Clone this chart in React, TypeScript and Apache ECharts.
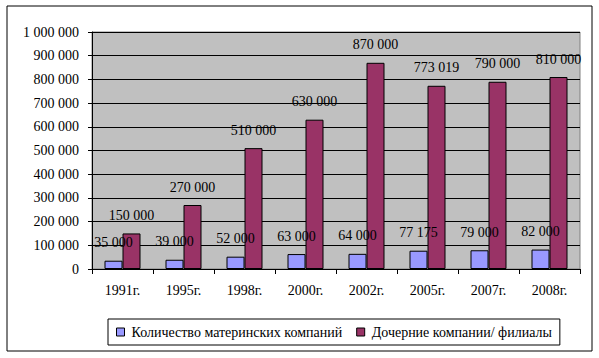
import React, { useEffect, useRef } from "react";
import * as echarts from "echarts";

const categories = ["1991г.", "1995г.", "1998г.", "2000г.", "2002г.", "2005г.", "2007г.", "2008г."];
const parentCompanies = [35000, 39000, 52000, 63000, 64000, 77175, 79000, 82000];
const subsidiaries = [150000, 270000, 510000, 630000, 870000, 773019, 790000, 810000];
const seriesNames = ["Количество материнских компаний", "Дочерние компании/ филиалы"];

const FONT = "Liberation Serif";

const fmt = (v: number) => String(Math.round(v)).replace(/\B(?=(\d{3})+(?!\d))/g, " ");

export default function App() {
  const ref = useRef<HTMLDivElement>(null);
  useEffect(() => {
    if (!ref.current) return;
    const chart = echarts.init(ref.current, undefined, { renderer: "svg" });
    const labelCfg = {
      show: true,
      position: "top" as const,
      distance: 11,
      color: "#000",
      fontFamily: FONT,
      fontSize: 14,
      formatter: (p: any) => fmt(p.value),
    };
    chart.setOption({
      animation: false,
      backgroundColor: "#fff",
      textStyle: { fontFamily: FONT, fontSize: 14, color: "#000" },
      graphic: [
        {
          type: "rect",
          shape: { x: 7, y: 6, width: 585, height: 345 },
          style: { fill: "none", stroke: "#000", lineWidth: 1 },
          silent: true,
          z: 100,
        },
      ],
      grid: {
        left: 92,
        top: 32,
        right: 19,
        bottom: 89,
        show: true,
        backgroundColor: "#C0C0C0",
        borderColor: "#808080",
        borderWidth: 1,
      },
      legend: {
        data: seriesNames,
        left: 108,
        top: 319,
        width: 452,
        padding: [6, 8, 6, 8],
        borderColor: "#000",
        borderWidth: 1,
        itemWidth: 8,
        itemHeight: 8,
        itemGap: 14,
        icon: "rect",
        itemStyle: { borderColor: "#000", borderWidth: 1 },
        textStyle: { fontFamily: FONT, fontSize: 14, color: "#000", padding: [0, 0, 0, 2] },
      },
      xAxis: {
        type: "category",
        data: categories,
        axisLine: { show: true, lineStyle: { color: "#000", width: 1 } },
        axisTick: { show: true, length: 5, alignWithLabel: false, lineStyle: { color: "#000" } },
        axisLabel: { margin: 14, color: "#000", fontFamily: FONT, fontSize: 14 },
        splitLine: { show: false },
      },
      yAxis: {
        type: "value",
        min: 0,
        max: 1000000,
        interval: 100000,
        axisLine: { show: true, lineStyle: { color: "#000", width: 1 } },
        axisTick: { show: true, length: 4, lineStyle: { color: "#000" } },
        axisLabel: { margin: 13, color: "#000", fontFamily: FONT, fontSize: 14, formatter: (v: number) => fmt(v) },
        splitLine: { show: true, lineStyle: { color: "#000", width: 1 } },
      },
      series: [
        {
          name: seriesNames[0],
          type: "bar",
          data: parentCompanies,
          barWidth: 18,
          barGap: "0%",
          itemStyle: { color: "#9999FF", borderColor: "#000", borderWidth: 1 },
          label: labelCfg,
        },
        {
          name: seriesNames[1],
          type: "bar",
          data: subsidiaries,
          barWidth: 18,
          barGap: "0%",
          itemStyle: { color: "#993366", borderColor: "#000", borderWidth: 1 },
          label: labelCfg,
        },
      ],
    });
    return () => chart.dispose();
  }, []);
  return (
    <div
      ref={ref}
      style={{ position: "absolute", left: 0, top: 0, width: 599, height: 358 }}
    />
  );
}
